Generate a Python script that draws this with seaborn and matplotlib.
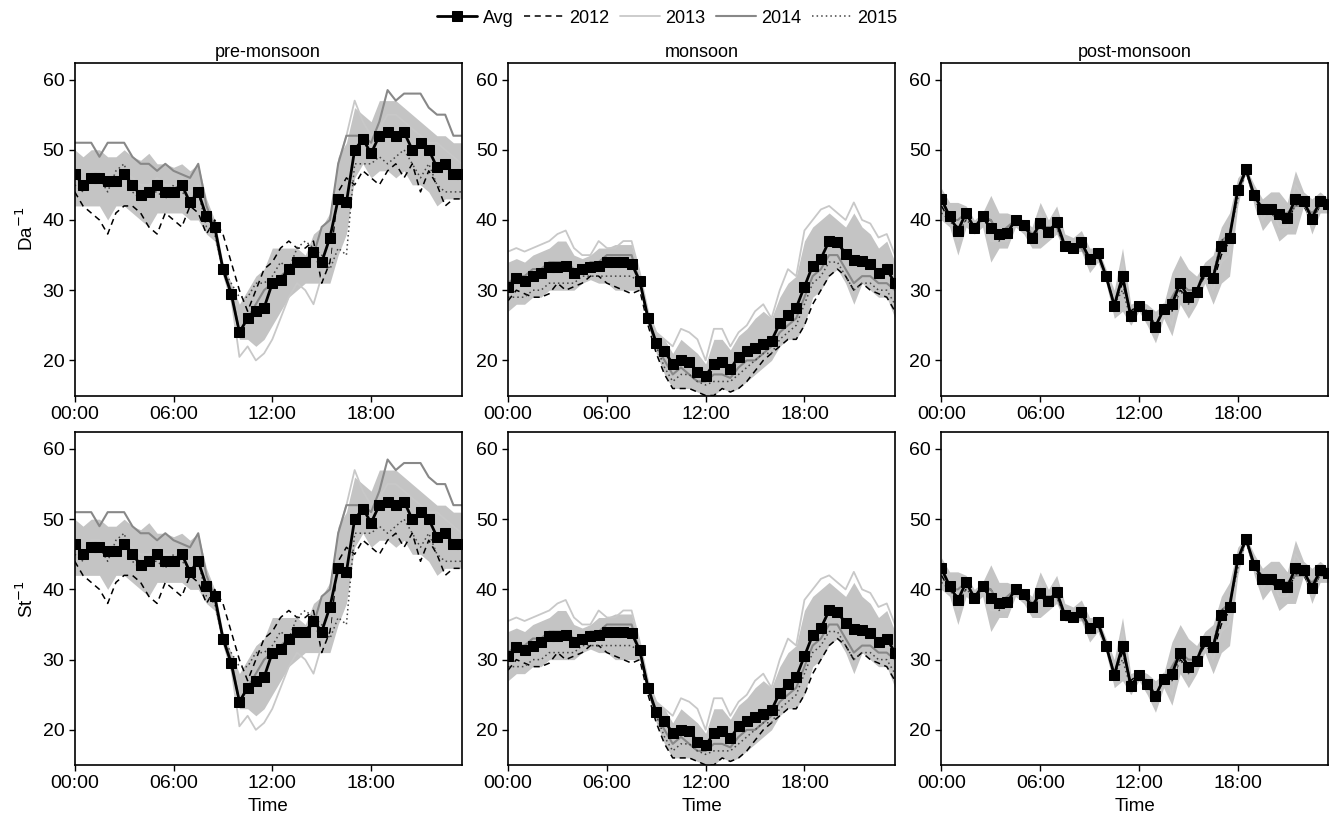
import numpy as np
import pandas as pd
import matplotlib
matplotlib.use("Agg")
import matplotlib.pyplot as plt
import seaborn as sns

sns.set_style("white")
plt.rcParams['font.family'] = ['Liberation Sans', 'DejaVu Sans']
plt.rcParams['text.color'] = 'black'
plt.rcParams['axes.labelcolor'] = 'black'
plt.rcParams['xtick.color'] = 'black'
plt.rcParams['ytick.color'] = 'black'

hours = [i * 0.5 for i in range(48)]
seasons = ["pre-monsoon", "monsoon", "post-monsoon"]
row_labels = ["Da$^{-1}$", "St$^{-1}$"]
xtick_vals = [0, 6, 12, 18]
xtick_labels = ["00:00", "06:00", "12:00", "18:00"]

pre_avg = [46.5,45,46,46,45.5,45.5,46.5,45,43.5,44,45,44,44,45,42.5,44,40.5,39,33,29.5,24,26,27,27.5,31,31.5,33,34,34,35.5,34,37.5,43,42.5,50,51.5,49.5,52,52.5,52,52.5,50,51,50,47.5,48,46.5,46.5]
pre_hi = [50,49,50,50,49,49,50,49,48.5,49.5,48,48,47.5,48,47,48,43,40,34,31,28,30,32,33,36,36,36,36,35,38,39,41,49,51,56,55,54,57,57,57,56,55,54,53,52,52,51,51]
pre_lo = [42,42,42,42,40,42,42,41,40,39,41,41,41,41,40,40,38,37,32,28,23,23,22,23,25,27,29,30,31,31,31,31,35,38,46,48,46,47,47,46,47,45,45,44,42,43,43,43]
pre_2012 = [44,42,41,40,38,41,42,42,41,39,38,41,40,39,42,41,38,40,38,34,30,27,30,33,34,36,37,36,36,37,31,34,44,46,45,47,46,45,47,48,46,48,44,47,45,42,43,43]
pre_2013 = [46,45,47,47,46,46,47,46,45,45,46,45,45,46,44,45,41,39,33,29,20.5,22,20,21,23,26,29,31,30,28,32,35,48,52,57,54,52,53,55,55,54,53,52,51,51,50,49,48]
pre_2014 = [51,51,51,49,51,51,51,49,48,48,47,48,47,46.5,46,48,42,39,33,30,24,26,28,30,31,32,33,34,34,35,39,40,48,52,52,52,51,54,58.5,57,58,58,58,56,55,55,52,52]
pre_2015 = [45,44,46,46,44,47,48,44,43,44,44,43,45,44,43,44,39,38,33,31,29,29,31,31,32,34,33,36,37,36,35,33,36,35,48,48,48,49,48,49,50,48,46,48,45,44,44,44]

mon_avg = [30.5,31.8,31.3,32,32.5,33.3,33.3,33.5,32.5,33,33.3,33.5,34,34,34,33.8,31.3,26,22.5,21.3,19.5,20,19.8,18.3,17.8,19.5,19.8,18.8,20.5,21.3,21.8,22.3,22.8,25.3,26.5,27.5,30.5,33.5,34.5,37,36.8,35.2,34.3,34.2,33.8,32.5,33,31]
mon_hi = [34,34.5,34,35,35.5,36,37,37,35,34.5,35,36,36,36.5,36.5,36.5,32,27,24,23,21,23,22,21,19.5,23,23,21.5,23.5,24.5,26,27,26,29,31,32,37,39,40,41,40,39,41,39,38,36,37,34]
mon_lo = [27,28,28,29,29,30,30,30,30,31,31.5,31,31,30,30,30,30,25,21,18,16,16,16,15.5,15,15,16,15.5,16,17,18,19,20,22,23,23,25,29,30,32,33,31,28,31,30,29,29,26]
mon_2012 = [28.5,30,29.5,29,29,29.5,31,30,30.5,31,32,32,31,30.5,30,29.5,30,25,21,18,16,16,16,15.5,15,15,16,15.5,16,17,18.5,20,21,22,23,23,25,28,30,32,33,32,30,31,30,29.5,29,27]
mon_2013 = [35.5,36,35.5,36,36.5,37,38,38.5,36,35,35,37,36,36,37,37,32.5,27,24,23,22,24.5,24,23,20,24.5,24.5,22,24,25,27,28,26,30,33,32,38.5,40,41.5,42,41,40,42.5,40,39.5,37.5,38,35]
mon_2014 = [31,32,32,33,33,34,34,34,33,33,34,34,35,35,35,35,31,26,22,20,18,19,18,17,17,18,18,17.5,19,20,20,21,22,24,25,26,29,32,33,35,35,33,31,32,32,31,31,30]
mon_2015 = [29,29,29,30,30,31,31,31,31,32,32,32,32,32,32,32,31,26,22,19,17,18,18,17,16.5,17,17,17,18,19,20,21,21,23,24,25,28,31,32,34,34,32,30,31,31,30,30,28]

post_avg = [43,40.5,38.5,41,38.8,40.5,38.8,38,38.2,40,39.3,37.5,39.5,38.3,39.7,36.3,36,36.8,34.5,35.3,32,27.8,32,26.3,27.8,26.5,24.8,27.3,28,31,29,29.8,32.7,31.8,36.3,37.5,44.3,47.2,43.5,41.5,41.5,40.8,40.3,43,42.7,40.2,42.7,42.3]
post_hi = [44.5,42.5,42.5,42,40,41,43.5,41,41,40.5,40,39,42.5,40,42,38,37.5,38.5,36,36,33,30,36,28,28.5,28,27,28,32.5,35,33,32,34,35,39,41,46,47.5,45,43,44,44,42.5,47,44,43,44,43]
post_lo = [40,39,35,39,38,39,34,36,36,39,38,36,36,37,38,35.5,35.5,35.5,32.5,34,31,26,27,25,27,25,22.5,26,23.5,28,26,28,31,28,31,32,42,47,42,38.5,40,37,38,38,42,38,41,41]
post_2012 = [42,40,39,40,39,40,40,38,38,40,39,37,40,38,40,36,36,37,34,35,32,28,31,27,28,27,25,27,27,30,29,30,32,31,35,37,44,47,43,41,41,40,40,42,42,40,42,42]
post_2013 = [44,41,37,41,39,40,37,37,37,39.5,39,37,41,38,41,37,36,37,35,35,32,27,34,26,28,26,24,28,25,32,27,29,33,30,34,35,45,47,44,40,42,39,39,45,43,39,43,42]
post_2014 = [43,40,40,41,39,40.5,40,38,39,40,39.5,38,39,39,39,36,36,36,34,35,32,28,32,26.5,27.5,26.5,25,27,29,31,30,30,33,32,37,38,44,47,43,42,41,41,41,42,42,41,42,42]
post_2015 = [41,40,38,40,39,40,39,37,38,40,39,37,39,38,39,36,36,37,34,35,32,28,30,26,27.5,26,25,27,28,30,28,30,32,32,37,38,43,47,43,41,41,41,40,42,43,40,42,42]

season_data = {
    "pre-monsoon": (pre_avg, pre_lo, pre_hi, pre_2012, pre_2013, pre_2014, pre_2015),
    "monsoon": (mon_avg, mon_lo, mon_hi, mon_2012, mon_2013, mon_2014, mon_2015),
    "post-monsoon": (post_avg, post_lo, post_hi, post_2012, post_2013, post_2014, post_2015),
}

styles = {
    "2012": dict(color="black", ls=(0, (4, 3)), lw=1.1),
    "2013": dict(color="#c8c8c8", ls="-", lw=1.3),
    "2014": dict(color="#888888", ls="-", lw=1.5),
    "2015": dict(color="#444444", ls=(0, (1, 2)), lw=1.1),
}

fig, axes = plt.subplots(2, 3, figsize=(13.35, 8.36), dpi=100)
fig.subplots_adjust(left=0.056, right=0.995, top=0.925, bottom=0.085, wspace=0.12, hspace=0.11)

handles = None
for r in range(2):
    for c, s in enumerate(seasons):
        ax = axes[r, c]
        avg, lo, hi, y12, y13, y14, y15 = season_data[s]
        ax.fill_between(hours, lo, hi, color="#c4c4c4", lw=0, zorder=1)
        for name, vals in zip(["2012", "2013", "2014", "2015"], [y12, y13, y14, y15]):
            st = styles[name]
            sns.lineplot(x=hours, y=vals, ax=ax, color=st["color"], linestyle=st["ls"], lw=st["lw"], label=name, zorder=2)
        sns.lineplot(x=hours, y=avg, ax=ax, color="black", lw=2, marker="s", markersize=6.5,
                     markeredgecolor="black", label="Avg", zorder=3)
        if handles is None:
            h, l = ax.get_legend_handles_labels()
            handles = (h, l)
        ax.get_legend().remove()
        ax.set_xlim(0, 23.5)
        ax.set_ylim(15, 62.4)
        ax.set_yticks([20, 30, 40, 50, 60])
        ax.set_xticks(xtick_vals)
        ax.set_xticklabels(xtick_labels)
        ax.tick_params(axis="both", labelsize=14, direction="out", length=4, width=1, bottom=True, left=True)
        for sp in ax.spines.values():
            sp.set_linewidth(1.2)
            sp.set_color("black")
        if r == 0:
            ax.set_title(s, fontsize=13, pad=4)
        if c == 0:
            ax.set_ylabel(row_labels[r], fontsize=13.5)
        else:
            ax.set_ylabel("")
        if r == 1:
            ax.set_xlabel("Time", fontsize=13.5)

h, l = handles
order = [4, 0, 1, 2, 3]
fig.legend([h[i] for i in order], [l[i] for i in order], loc="upper center", ncol=5, frameon=False,
           bbox_to_anchor=(0.5, 1.008), fontsize=13, handlelength=2.2, columnspacing=0.6, handletextpad=0.3)

fig.savefig("out.png", dpi=100)
